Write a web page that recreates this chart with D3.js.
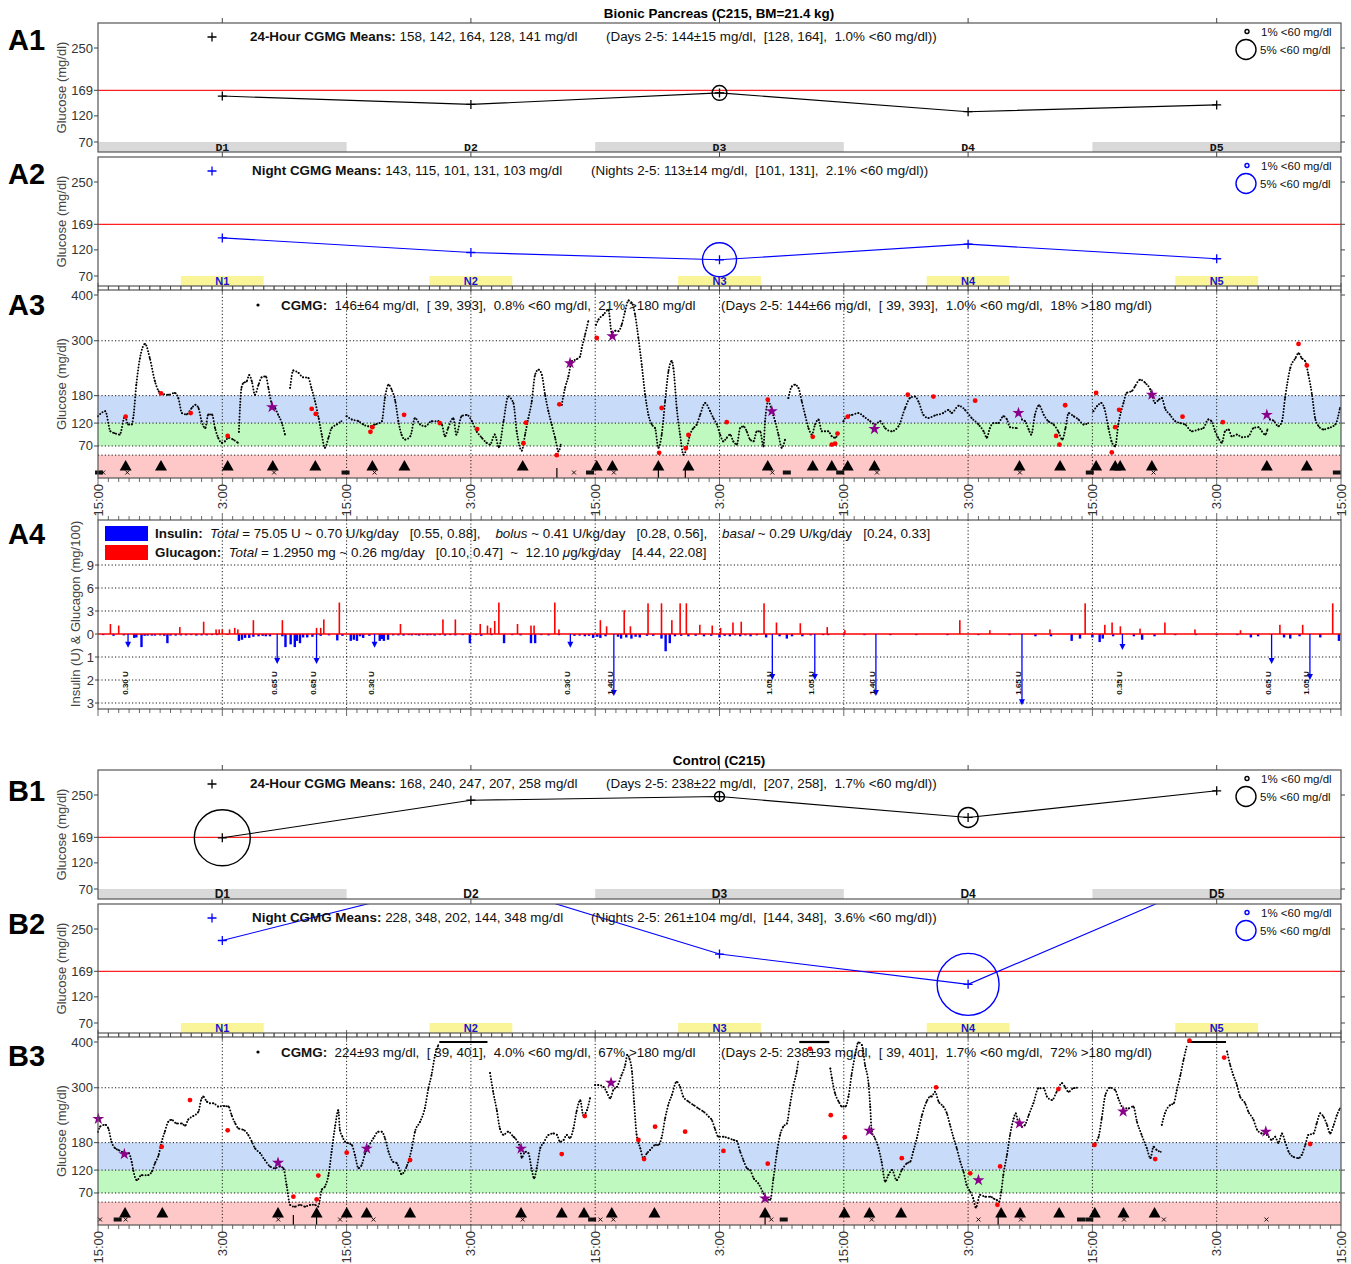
<!DOCTYPE html>
<html><head><meta charset="utf-8">
<script src="https://cdnjs.cloudflare.com/ajax/libs/d3/7.8.5/d3.min.js"></script>
<style>body{margin:0;background:#fff}svg{font-family:"Liberation Sans",Arial,Helvetica,sans-serif}text{white-space:pre}</style>
</head><body>
<svg id="chart" width="1351" height="1264"></svg>
<script>
// ---- data ----
const dayLabels = ["D1","D2","D3","D4","D5"];
const nightLabels = ["N1","N2","N3","N4","N5"];
const dayCenters = [12,36,60,84,108];           // hours after 15:00 on day 0
const bpDayMeans = [158,142,164,128,141];
const bpDayHypo = [0,0,3.7,0,0];                 // % <60 mg/dl (circle size)
const bpNightMeans = [143,115,101,131,103];
const bpNightHypo = [0,0,8.5,0,0];
const ctDayMeans = [168,240,247,207,258];
const ctDayHypo = [14,0,2.5,5,0];
const ctNightMeans = [228,348,202,144,348];
const ctNightHypo = [0,0,0,15.5,0];
const meanTicks = [70,120,169,250];
const cgmTicks = [70,120,180,300,400];
const timeLabels = ["15:00","3:00"];

// bionic pancreas CGMG [hour, mg/dl]; null = sensor gap
const bpCgm = [[0,135],[0.7,146],[1.2,102],[1.6,98],[2.1,95],[2.6,135],[2.9,117],[3.25,117],[3.4,131],[3.7,204],[4.05,262],[4.55,293],[5.0,262],[5.5,211],[5.85,190],[6.15,184],[6.8,182],[7.4,186],[7.75,175],[8.1,142],[8.55,139],[9.05,153],[9.4,160],[9.7,153],[10.0,124],[10.35,109],[10.65,139],[11.0,139],[11.3,109],[11.6,88],[11.95,77],[12.25,80],[12.6,88],[13.05,84],[13.5,77],null,
[13.6,101],[13.85,197],[14.05,208],[14.35,211],[14.6,225],[14.85,211],[15.15,182],[15.5,204],[15.8,220],[16.2,222],[16.45,197],[16.75,164],[17.1,153],[17.4,138],[17.75,120],[18.05,95],null,
[18.55,197],[18.85,235],[19.35,230],[19.8,220],[20.3,219],[20.6,197],[20.95,168],[21.3,131],[21.6,95],[21.9,66],[22.25,88],[22.55,109],[23.05,117],[23.5,124],null,
[24.0,135],[24.5,128],[25.15,124],[25.6,117],[26.1,113],[26.75,117],[27.4,124],[27.7,175],[28.05,204],[28.35,193],[28.7,168],[29.0,124],[29.3,95],[29.65,84],[30.15,91],[30.6,131],[31.1,117],[31.6,113],[32.2,124],[32.85,124],[33.2,117],[33.5,91],[33.8,109],[34.3,131],[34.6,95],[35.1,135],[35.6,138],[36.1,124],[36.55,102],[37.05,88],[37.5,77],[37.85,73],[38.3,95],[38.7,67],[39.15,124],[39.6,178],[40.1,164],
[40.42,102],[40.91,60],[41.23,95],[41.55,131],[41.87,167],[42.19,225],[42.52,237],[42.84,226],[43.16,182],[43.48,146],[43.8,117],[44.13,88],[44.45,58],[44.67,73],null,
[44.77,160],[45.09,197],[45.41,222],[45.73,255],[46.22,260],[46.54,266],[46.7,284],[47.02,313],[47.34,343],null,
[48.08,335],[48.31,346],[48.79,357],[49.27,368],[49.6,317],[49.92,322],[50.24,321],[50.56,335],[50.88,364],[51.21,388],[51.53,383],[51.85,357],[52.17,306],[52.49,248],[52.82,182],[53.14,138],[53.46,117],[53.78,109],[54.1,66],[54.42,95],[54.75,168],[55.07,233],[55.39,256],[55.55,240],[55.87,153],[56.19,95],[56.52,51],[56.84,66],[57.16,95],[57.48,109],[57.8,117],[58.13,138],[58.61,164],[59.09,146],[59.41,131],[59.74,117],[60.06,95],[60.38,80],[60.7,88],[61.02,95],[61.34,80],[61.67,73],[61.99,109],[62.31,113],[62.63,102],[62.95,84],[63.28,80],[63.6,102],[63.92,102],[64.24,69],[64.4,124],[64.72,168],[65.05,146],[65.37,124],[65.69,95],[66.01,66],[66.33,84],null,
[66.65,175],[66.98,200],[67.3,204],[67.62,197],[67.94,168],[68.26,138],[68.59,109],[68.91,95],[69.23,117],[69.55,128],[69.87,102],[70.2,102],[70.52,102],[70.84,91],[71.16,88],[71.48,98],null,
[71.97,124],[72.29,135],[72.77,138],[73.41,142],[73.9,135],[74.54,124],[75.02,117],[75.51,124],[75.99,109],[76.63,102],[77.28,113],[77.92,153],[78.4,175],[78.89,178],[79.21,167],[79.69,138],[80.17,131],
[80.8,137],[81.6,142],[82.1,149],[82.4,142],[83.1,158],[83.7,149],[84.35,131],[85.0,117],[85.5,102],[85.8,88],[86.1,109],[86.45,120],[86.9,120],[87.4,135],[87.75,128],[88.05,111],[88.7,109],null,
[89.2,128],[89.5,124],[89.85,106],[90.1,95],[90.45,138],[90.85,159],[91.3,138],[91.75,124],[92.25,117],[92.7,102],[93.1,84],[93.4,109],[93.7,142],[94.2,135],[94.65,128],[95.15,117],[95.6,120],null,
[96.1,146],[96.45,157],[96.85,164],[97.15,153],[97.55,109],[97.85,80],[98.2,69],[98.5,117],[99.0,164],[99.3,186],[99.8,190],[100.1,200],[100.6,215],[101.1,208],[101.6,193],[102.05,164],[102.4,171],[102.7,175],[103.0,153],[103.5,138],[104.0,124],[104.5,120],[104.95,117],[105.6,102],[106.25,106],[106.7,109],[107.2,128],[107.5,124],[107.85,102],[108.15,88],[108.5,77],[108.8,102],[109.15,106],[109.45,91],[109.95,95],[110.45,89],[111.05,91],[111.55,109],[112.05,111],[112.35,102],[112.7,95],[112.9,106],null,
[113.15,128],[113.5,125],[113.95,113],[114.3,124],[114.6,175],[115.1,240],[115.6,262],[115.9,273],[116.2,262],[116.55,255],[116.85,226],[117.2,182],[117.5,131],[117.85,113],[118.3,106],[118.8,109],[119.45,117],[119.9,153]];
const bpFinger = [[2.67,134],[6.08,185],[8.95,142],[12.52,92],[20.63,151],[21.02,140],[26.3,101],[26.49,111],[29.55,138],[32.99,120],[36.6,107],
[41.32,121],[41.07,76],[44.54,161],[44.29,50],[48.15,306],[54.42,153],[54.17,55],[57.0,94],[56.74,65],[60.7,122],[64.66,171],[69.0,90],[70.84,73],[71.16,75],[71.39,97],[72.38,134],[78.18,182],
[80.65,178],[84.68,169],[92.5,92],[92.82,73],[93.37,159],[96.36,186],[98.2,111],[98.58,149],[97.87,56],[104.7,134],[108.59,122],[115.9,293],[116.7,246]];
const bpStars = [[16.8,155],[45.57,251],[49.66,310],[65.05,146],[74.96,107],[88.86,142],[101.74,182],[112.84,138]];
const bpMeals = [2.67,6.08,12.52,16.87,20.98,26.49,29.58,41.0,48.15,49.66,54.1,57.0,64.66,69.0,70.84,72.38,74.96,88.96,92.88,96.36,98.2,98.68,101.74,112.84,116.7];
const bpCrosses = [0.5,2.83,17.0,26.7,45.95,49.8,65.1,75.2,89.0,101.9];
const bpCalib = [0.1,23.9,47.5,66.5,71.65,95.75,119.6];
const bpMarks = [44.3,54.1,56.7];

// control CGMG [hour, mg/dl]; null = sensor gap
const ctCgm = [[0,204],[0.2,215],[0.7,219],[1.0,211],[1.3,182],[1.65,168],[1.95,164],[2.3,160],[2.6,153],[2.95,157],[3.25,138],[3.4,120],[3.75,98],[4.2,109],[4.85,109],[5.2,117],[5.5,135],[5.85,153],[6.15,182],[6.45,204],[6.8,226],[7.1,230],[7.6,222],[8.1,222],[8.4,217],[8.7,230],[9.2,238],[9.7,248],[9.95,273],[10.15,281],[10.5,270],[10.8,266],[11.15,266],[11.6,259],[12.25,260],[12.6,259],[12.9,240],[13.25,222],[13.55,211],[14.05,208],[14.5,197],[14.85,182],[15.15,168],[15.65,157],[16.1,142],[16.6,128],[17.1,124],[17.55,128],[17.9,124],[18.2,88],[18.55,44],[19.0,40],[19.5,44],[20.0,40],[20.5,44],[20.95,44],[21.25,40],[21.6,77],[21.9,84],[22.25,109],[22.55,160],[22.9,217],[23.2,251],[23.35,208],[23.6,193],[23.85,182],[24.15,179],[24.5,175],[24.8,153],[25.15,124],[25.45,131],[25.8,157],[26.1,171],[26.6,190],[27.05,204],[27.4,204],[27.7,190],[28.05,160],[28.5,138],[28.85,135],[29.3,111],[29.8,128],[30.3,168],[30.6,204],[31.1,226],[31.55,255],[31.9,299],[32.2,328],[32.55,372],[32.85,393],null,
[37.85,332],[38.15,291],[38.5,251],[38.8,211],[39.15,197],[39.6,204],[40.1,193],
[40.25,190],[40.75,168],[40.9,147],[41.25,160],[41.55,157],[41.85,124],[42.1,102],[42.35,124],[42.7,168],[43.0,179],[43.5,197],[43.95,200],[44.3,197],[44.6,182],[44.95,186],[45.25,197],[45.55,190],[45.9,211],[46.2,248],[46.55,273],[46.85,240],[47.2,251],[47.5,277],null,
[48.0,306],[48.3,306],[48.8,302],[49.1,291],[49.45,277],[49.75,295],[50.1,302],[50.55,328],[50.9,350],[51.1,372],[51.3,364],[51.55,335],[51.75,270],[52.0,197],[52.35,168],[52.65,146],[53.0,157],[53.3,164],[53.8,175],[54.1,175],[54.4,190],[54.75,233],[55.05,262],[55.4,284],[55.85,313],[56.2,302],[56.5,281],[57.0,270],[57.5,262],[57.95,255],[58.45,248],[58.95,237],[59.25,230],[59.55,211],[59.9,193],[60.4,193],[60.85,190],[61.35,186],[61.65,184],[62.0,160],[62.3,142],[62.65,124],[62.95,120],[63.3,102],[63.75,91],[64.25,69],[64.55,55],[64.9,55],[65.2,101],[65.55,160],[65.85,197],[66.15,215],[66.5,222],[66.8,262],[67.15,306],[67.45,335],[67.6,357],null,
[70.7,342],[70.85,321],[71.15,288],[71.5,270],[71.8,259],[72.15,259],[72.45,281],[72.75,328],[73.1,372],[73.4,399],[73.75,393],[74.05,350],[74.4,306],[74.55,259],[74.7,204],[75.0,190],[75.35,168],[75.65,138],[76.0,95],[76.3,109],[76.65,120],[77.1,98],[77.6,120],[78.1,135],[78.4,138],[78.7,160],[79.05,190],[79.55,240],[80.0,270],[80.35,281],
[80.5,281],[80.8,291],[81.15,270],[81.6,259],[81.95,244],[82.25,219],[82.6,190],[82.9,168],[83.25,138],[83.55,117],[83.85,88],[84.2,73],[84.5,58],[84.75,38],[85.15,66],[85.65,62],[86.15,62],[86.45,58],[86.75,55],[87.0,51],[87.2,73],[87.4,109],[87.75,153],[88.05,197],[88.4,233],[88.6,244],[88.85,222],[89.2,215],[89.5,219],[89.85,240],[90.3,266],[90.8,299],[91.3,299],[91.6,281],[92.1,273],[92.55,291],[93.05,310],[93.35,302],[93.7,291],[94.15,299],[94.5,300],null,
[96.1,175],[96.6,193],[96.9,233],[97.25,284],[97.7,300],[98.2,295],[98.5,277],[99.0,255],[99.5,255],[99.95,259],[100.3,226],[100.75,197],[101.25,168],[101.6,146],[101.9,171],[102.2,164],[102.6,160],null,
[102.7,219],[103.0,244],[103.5,262],[103.85,266],[104.15,295],[104.5,328],[104.8,361],[105.1,390],null,
[109.0,379],[109.3,350],[109.6,328],[109.95,306],[110.25,281],[110.75,266],[111.05,248],[111.55,230],[111.9,208],[112.35,200],[112.85,197],[113.3,186],[113.65,193],[113.95,179],[114.3,200],[114.6,182],[114.95,160],[115.4,149],[115.9,146],[116.2,153],[116.55,175],[116.85,197],[117.35,200],[117.65,222],[118.0,244],[118.3,237],[118.65,219],[118.95,200],[119.3,219],[119.6,240],[119.9,255]];
const ctCapped = [[32.95,37.6],[67.7,70.6],[105.2,108.9]];   // sensor at 400 ceiling
const ctFinger = [[8.88,273],[12.52,207],[6.15,171],[18.86,62],[21.27,108],[21.11,56],[24.01,158],[30.13,142],
[44.77,155],[46.99,238],[52.17,186],[52.72,144],[53.78,215],[56.68,204],[60.38,162],[64.66,134],[68.75,385],[70.74,240],[72.09,192],[77.6,146],
[80.91,301],[84.2,113],[86.83,44],[87.09,128],[92.72,297],[96.2,175],[102.06,144],[105.37,403],[108.72,366],[117.02,177]];
const ctStars = [[0.03,232],[2.54,155],[17.38,136],[25.94,167],[40.84,167],[49.53,311],[64.4,58],[74.47,206],[85.0,98],[88.96,222],[98.97,248],[112.74,204]];
const ctMeals = [2.61,6.21,17.38,21.11,24.01,25.94,30.13,40.84,44.77,46.92,49.6,53.72,64.4,72.06,74.47,77.53,87.19,89.02,92.79,96.23,99.0,102.0];
const ctCrosses = [0.2,2.67,17.4,23.37,26.59,41.0,48.5,49.75,65.0,74.7,85.0,89.1,99.05,102.9,112.8];
const ctCalib = [1.9,47.7,66.2,94.9,95.7];
const ctMarks = [18.86,21.1,64.4,86.9];

// insulin / glucagon
const bolusTimes = [2.9,17.3,21.1,26.7,45.6,49.8,65.1,69.2,75.1,89.2,98.9,113.3,117.0];
const bolusDoses = ["0.30","0.65","0.65","0.30","0.30","1.40","1.05","1.05","1.40","1.65","0.35","0.65","1.05"];
const bolusDepth = [0.6,1.3,1.3,0.6,0.6,2.7,2.0,2.0,2.7,3.1,0.7,1.3,2.0];
const basal = [[0.5,0.05],[1.5,0.08],[2.5,0.06],[3.5,0.17],[3.7,0.15],[4.2,0.57],[4.5,0.08],[4.8,0.07],[5.2,0.07],[5.5,0.07],[6.0,0.06],[6.4,0.08],[6.7,0.4],[7.0,0.07],[7.5,0.07],[8.0,0.06],[8.5,0.06],[9.0,0.05],[9.5,0.07],[10.0,0.06],[10.5,0.06],[11.0,0.05],[11.5,0.05],[12.5,0.04],[13.6,0.3],[13.9,0.25],[14.2,0.17],[14.6,0.17],[15.0,0.12],[15.5,0.1],[15.9,0.08],[16.2,0.1],[16.6,0.1],[17.8,0.1],[18.1,0.57],[18.6,0.45],[19.0,0.57],[19.2,0.3],[19.5,0.4],[19.8,0.15],[20.2,0.15],[20.7,0.12],[21.5,0.08],[22.3,0.06],[23.1,0.28],[23.6,0.08],[24.4,0.3],[24.7,0.25],[25.0,0.3],[25.3,0.1],[25.6,0.17],[26.2,0.08],[27.2,0.3],[27.4,0.22],[27.6,0.3],[28.0,0.25],[28.5,0.06],[29.0,0.06],[29.5,0.07],[30.0,0.05],[30.3,0.06],[30.7,0.05],[31,0.07],[31.4,0.05],[31.8,0.06],[32.1,0.05],[32.5,0.07],[33.0,0.05],[33.5,0.07],[34.0,0.05],[34.5,0.06],[35.2,0.05],[35.9,0.4],[36.5,0.05],[37,0.08],[38.0,0.05],[39.2,0.4],[40.0,0.05],[40.8,0.06],[41.8,0.4],[42.2,0.4],[42.8,0.05],[43.5,0.06],[44.5,0.05],[46.0,0.08],[46.5,0.07],[47.0,0.1],[47.4,0.08],[47.8,0.17],[48.2,0.12],[48.5,0.17],[49.0,0.1],[50.2,0.12],[50.5,0.2],[51.0,0.15],[51.5,0.2],[51.9,0.12],[52.3,0.15],[53.0,0.08],[53.6,0.08],[54.4,0.2],[54.8,0.75],[55.2,0.4],[55.7,0.1],[56.3,0.08],[57,0.1],[57.7,0.08],[58.5,0.1],[59.2,0.08],[60,0.15],[60.5,0.08],[61,0.1],[61.5,0.06],[62,0.1],[62.5,0.06],[63,0.1],[63.6,0.06],[64.5,0.15],[65.8,0.1],[66.5,0.2],[67.0,0.1],[68,0.1],[68.8,0.06],[70.0,0.05],[70.5,0.05],[72,0.05],[74,0.05],[76.5,0.05],[79,0.05],[82,0.05],[85,0.05],[88,0.05],[90.5,0.1],[92,0.1],[94,0.3],[94.8,0.2],[96,0.15],[96.7,0.35],[97,0.2],[98,0.1],[100,0.1],[100.8,0.25],[102,0.1],[104,0.05],[106,0.05],[108,0.05],[110,0.05],[111.3,0.15],[112,0.1],[114.5,0.15],[115.1,0.2],[116,0.1],[118,0.15],[119.8,0.3]];
const glucagon = [[1.2,1.3],[2.0,1.1],[7.9,0.9],[10.2,1.6],[11.4,0.6],[11.7,0.6],[12.0,0.6],[12.7,0.6],[13.2,0.8],[13.5,0.6],[15.0,1.8],[17.8,1.8],[21.1,0.8],[21.5,0.8],[21.8,1.9],[23.3,4.1],[29.2,1.3],[33.3,1.9],[34.5,1.9],[36.9,1.3],[37.6,1.1],[37.9,0.8],[38.3,1.7],[38.7,4.1],[40.5,1.3],[41.8,1.1],[42.1,1.1],[44.1,4.1],[44.5,0.6],
[48.5,1.8],[49.1,1.0],[50.8,3.1],[51.4,1.0],[53.1,4.0],[54.4,4.0],[55.4,1.8],[56.2,4.0],[56.8,4.0],[58.1,1.2],[59.3,1.1],[60.1,0.8],[61.3,1.5],[62.1,1.6],[64.3,4.0],[65.5,1.5],[67.8,1.4],[70.4,0.9],[72.1,0.5],[83.2,1.8],[86.1,0.5],[91.9,0.6],[95.3,4.0],[97.2,1.2],[97.9,1.5],[98.7,1.0],[100.6,0.7],[103.0,1.5],[105.9,0.6],[110.3,0.5],[114.1,1.2],[116.3,1.2],[119.2,4.0]];

// ---- drawing ----
const X0 = 98, X1 = 1341;
const x = d3.scaleLinear().domain([0,120]).range([X0,X1]);
const svg = d3.select("#chart");
const TXT = "#333";
const FS = 13.4;
const hours = d3.range(0,121);
const majors = d3.range(0,121,12);

function label(id, yBase){
  svg.append("text").attr("x",8).attr("y",yBase).attr("font-size",29).attr("font-weight","bold").text(id);
}
function yTitle(text, cx, cy){
  svg.append("text").attr("transform",`translate(${cx},${cy}) rotate(-90)`).attr("text-anchor","middle")
    .attr("font-size",13).attr("fill","#444").text(text);
}
function richText(g, xPos, yPos, parts){
  const t = g.append("text").attr("x",xPos).attr("y",yPos).attr("font-size",FS).attr("fill","#111");
  parts.forEach(p => t.append("tspan").attr("font-weight",p[1]==="b"?"bold":null).attr("font-style",p[1]==="i"?"italic":null).text(p[0]));
  return t;
}
function plus(g, cx, cy, color, s){
  g.append("path").attr("d",`M${cx-s},${cy}H${cx+s}M${cx},${cy-s}V${cy+s}`).attr("stroke",color).attr("stroke-width",1.3);
}
function hourTicks(g, yPos, dir){
  g.selectAll(null).data(hours).join("line").attr("x1",d=>x(d)).attr("x2",d=>x(d))
    .attr("y1",yPos).attr("y2",d=>yPos+dir*(d%12===0?7:4)).attr("stroke","#444").attr("stroke-width",0.8);
}
function yAxis(g, y, ticks){
  g.selectAll(null).data(ticks).join("line").attr("x1",X0-4).attr("x2",X0).attr("y1",d=>y(d)).attr("y2",d=>y(d)).attr("stroke","#444");
  g.selectAll(null).data(ticks).join("line").attr("x1",X1).attr("x2",X1+4).attr("y1",d=>y(d)).attr("y2",d=>y(d)).attr("stroke","#444");
  g.selectAll(null).data(ticks).join("text").attr("x",X0-5).attr("y",d=>y(d)+4.5).attr("text-anchor","end")
    .attr("font-size",13).attr("fill",TXT).text(d=>d);
}

const rScale = d3.scaleLinear().domain([0,5]).range([0,10]);

function meansPanel(top, o){
  const g = svg.append("g");
  const H = 129, bottom = top + H;
  const y = d3.scaleLinear().domain([70,250]).range([top+119, top+25]);
  const cid = "clip" + top;
  g.append("clipPath").attr("id",cid).append("rect").attr("x",X0).attr("y",top).attr("width",X1-X0).attr("height",H);
  const bandTop = y(70);
  if (o.night){
    g.selectAll(null).data(dayCenters).join("rect").attr("x",d=>x(d-4)).attr("width",d=>x(d+4)-x(d-4))
      .attr("y",bandTop).attr("height",bottom-bandTop).attr("fill","#fbf59a");
    g.selectAll(null).data(nightLabels).join("text").attr("x",(d,i)=>x(dayCenters[i])).attr("y",bottom-1.5)
      .attr("text-anchor","middle").attr("font-size",11).attr("font-weight","bold").attr("fill","#1414d0").text(d=>d);
  } else {
    g.selectAll(null).data(dayCenters.filter((d,i)=>i%2===0)).join("rect").attr("x",d=>x(d-12)).attr("width",x(24)-x(0))
      .attr("y",bandTop).attr("height",bottom-bandTop).attr("fill","#d9d9d9");
    g.selectAll(null).data(dayLabels).join("text").attr("x",(d,i)=>x(dayCenters[i])).attr("y",bottom-1.5)
      .attr("text-anchor","middle").attr("font-size",o.mono?11.5:12).attr("font-weight","bold")
      .attr("font-family",o.mono?"'Liberation Mono','Courier New',monospace":null).attr("fill","#111").text(d=>d);
  }
  g.append("line").attr("x1",X0).attr("x2",X1).attr("y1",y(169)).attr("y2",y(169)).attr("stroke","#ff2020").attr("stroke-width",1.3);
  const cg = g.append("g").attr("clip-path",`url(#${cid})`);
  const line = d3.line().x((d,i)=>x(dayCenters[i])).y(d=>y(d));
  cg.append("path").attr("d",line(o.means)).attr("fill","none").attr("stroke",o.color).attr("stroke-width",1.1);
  o.means.forEach((v,i)=>{
    if (y(v) > top) plus(cg, x(dayCenters[i]), y(v), o.color, 4.5);
    if (o.hypo[i] > 0) cg.append("circle").attr("cx",x(dayCenters[i])).attr("cy",y(v)).attr("r",rScale(o.hypo[i]))
      .attr("fill","none").attr("stroke",o.color).attr("stroke-width",1.4);
  });
  g.append("rect").attr("x",X0).attr("y",top).attr("width",X1-X0).attr("height",H).attr("fill","none").attr("stroke","#555").attr("stroke-width",1.2);
  yAxis(g, y, meanTicks);
  // legend
  g.append("circle").attr("cx",1247).attr("cy",top+8.5).attr("r",rScale(1)).attr("fill","none").attr("stroke",o.color).attr("stroke-width",1.4);
  g.append("circle").attr("cx",1246).attr("cy",top+26.5).attr("r",rScale(5)).attr("fill","none").attr("stroke",o.color).attr("stroke-width",1.4);
  g.append("text").attr("x",1261).attr("y",top+13).attr("font-size",11.5).attr("fill","#111").text("1% <60 mg/dl");
  g.append("text").attr("x",1260).attr("y",top+31).attr("font-size",11.5).attr("fill","#111").text("5% <60 mg/dl");
  // header
  plus(g, 212, top+14, o.color, 4.5);
  richText(g, o.tx, top+18, o.head);
  richText(g, o.tx2, top+18, o.head2);
  if (o.night) hourTicks(g, bottom, 1);
  else {
    g.selectAll(null).data(dayCenters).join("line").attr("x1",d=>x(d)).attr("x2",d=>x(d)).attr("y1",top).attr("y2",top-5).attr("stroke","#444");
    g.selectAll(null).data(dayCenters).join("line").attr("x1",d=>x(d)).attr("x2",d=>x(d)).attr("y1",bottom).attr("y2",bottom+5).attr("stroke","#444");
  }
}

function cgmPanel(top, o){
  const g = svg.append("g");
  const H = 188, bottom = top + H;
  const y = d3.scaleLinear().domain([0,400]).range([bottom, top+5]);
  const bands = [[0,50,"#ffc8c8"],[70,120,"#bff9bf"],[120,180,"#c8dcf9"]];
  g.selectAll(null).data(bands).join("rect").attr("x",X0).attr("width",X1-X0)
    .attr("y",d=>y(d[1])).attr("height",d=>y(d[0])-y(d[1])).attr("fill",d=>d[2]);
  g.selectAll(null).data([50,70,120,180,300]).join("line").attr("x1",X0).attr("x2",X1).attr("y1",d=>y(d)).attr("y2",d=>y(d))
    .attr("stroke","#000").attr("stroke-dasharray","1.2,2.2").attr("stroke-width",0.9);
  g.selectAll(null).data(majors.slice(1,-1)).join("line").attr("x1",d=>x(d)).attr("x2",d=>x(d)).attr("y1",top).attr("y2",bottom)
    .attr("stroke","#000").attr("stroke-dasharray","1.2,2.2").attr("stroke-width",0.9);
  // CGMG trace: dotted stroke through the read values
  const cgmLine = d3.line().defined(d=>d!==null).x(d=>x(d[0])).y(d=>y(d[1])).curve(d3.curveMonotoneX);
  g.append("path").attr("d",cgmLine(o.cgm)).attr("fill","none").attr("stroke","#000").attr("stroke-width",2)
    .attr("stroke-linecap","round").attr("stroke-dasharray","0,3");
  g.selectAll(null).data(o.cgm.filter(d=>d)).join("circle").attr("cx",d=>x(d[0])).attr("cy",d=>y(d[1])).attr("r",0.9).attr("fill","#000");
  g.selectAll(null).data(o.capped||[]).join("line").attr("x1",d=>x(d[0])).attr("x2",d=>x(d[1])).attr("y1",y(400)).attr("y2",y(400))
    .attr("stroke","#000").attr("stroke-width",2.2);
  g.selectAll(null).data(o.finger).join("circle").attr("cx",d=>x(d[0])).attr("cy",d=>y(d[1])).attr("r",2.4).attr("fill","#ff0000");
  const star = d3.symbol().type(d3.symbolStar).size(45);
  g.selectAll(null).data(o.stars).join("path").attr("d",star).attr("transform",d=>`translate(${x(d[0])},${y(d[1])})`).attr("fill","#8b008b");
  const tri = d3.symbol().type(d3.symbolTriangle).size(62);
  g.selectAll(null).data(o.meals).join("path").attr("d",tri).attr("transform",d=>`translate(${x(d)},${y(24)})`).attr("fill","#000");
  g.selectAll(null).data(o.crosses).join("path").attr("d",d=>{const cx=x(d),cy=y(12);return `M${cx-2},${cy-2}L${cx+2},${cy+2}M${cx-2},${cy+2}L${cx+2},${cy-2}`;})
    .attr("stroke","#000").attr("stroke-width",0.9);
  g.selectAll(null).data(o.calib).join("rect").attr("x",d=>x(d)-4).attr("y",y(12)-2).attr("width",8).attr("height",4).attr("fill","#111");
  g.selectAll(null).data(o.marks).join("line").attr("x1",d=>x(d)).attr("x2",d=>x(d)).attr("y1",y(22)).attr("y2",bottom).attr("stroke","#000").attr("stroke-width",1.2);
  g.append("rect").attr("x",X0).attr("y",top).attr("width",X1-X0).attr("height",H).attr("fill","none").attr("stroke","#555").attr("stroke-width",1.2);
  yAxis(g, y, cgmTicks);
  hourTicks(g, top, -1);
  hourTicks(g, bottom, 1);
  g.selectAll(null).data(majors).join("text").attr("transform",d=>`translate(${x(d)+4.5},${bottom+6}) rotate(-90)`)
    .attr("text-anchor","end").attr("font-size",13).attr("fill",TXT).text((d,i)=>timeLabels[i%2]);
  g.append("circle").attr("cx",258).attr("cy",top+15).attr("r",1.6).attr("fill","#000");
  richText(g, 281, top+20, o.head);
  richText(g, 721, top+20, o.head2);
}

function dosePanel(top){
  const g = svg.append("g");
  const H = 189, bottom = top + H;
  const yGlu = d3.scaleLinear().domain([0,3]).range([top+114, top+91]);
  const yIns = d3.scaleLinear().domain([0,1]).range([top+114, top+137]);
  [3,6,9].forEach(v => g.append("line").attr("x1",X0).attr("x2",X1).attr("y1",yGlu(v)).attr("y2",yGlu(v)).attr("stroke","#000").attr("stroke-dasharray","1.2,2.2").attr("stroke-width",0.9));
  [1,2,3].forEach(v => g.append("line").attr("x1",X0).attr("x2",X1).attr("y1",yIns(v)).attr("y2",yIns(v)).attr("stroke","#000").attr("stroke-dasharray","1.2,2.2").attr("stroke-width",0.9));
  g.selectAll(null).data(majors.slice(1,-1)).join("line").attr("x1",d=>x(d)).attr("x2",d=>x(d)).attr("y1",top).attr("y2",bottom)
    .attr("stroke","#000").attr("stroke-dasharray","1.2,2.2").attr("stroke-width",0.9);
  g.selectAll(null).data(basal).join("rect").attr("x",d=>x(d[0])-1.2).attr("width",2.4).attr("y",yIns(0)).attr("height",d=>yIns(d[1])-yIns(0)).attr("fill","#0000ff");
  g.append("line").attr("x1",X0).attr("x2",X1).attr("y1",yGlu(0)).attr("y2",yGlu(0)).attr("stroke","#ff0000").attr("stroke-width",1.6);
  g.selectAll(null).data(glucagon).join("rect").attr("x",d=>x(d[0])-0.8).attr("width",1.6).attr("y",d=>yGlu(d[1])).attr("height",d=>yGlu(0)-yGlu(d[1])).attr("fill","#ff0000");
  bolusTimes.forEach((t,i)=>{
    const bx = x(t), tip = yIns(bolusDepth[i]);
    g.append("line").attr("x1",bx).attr("x2",bx).attr("y1",yIns(0)).attr("y2",tip-4).attr("stroke","#0000ff").attr("stroke-width",1.3);
    g.append("path").attr("d",`M${bx-3},${tip-6}L${bx+3},${tip-6}L${bx},${tip}Z`).attr("fill","#0000ff");
    g.append("text").attr("transform",`translate(${bx-0.5},${top+163}) rotate(-90)`).attr("text-anchor","middle")
      .attr("font-size",8).attr("font-weight","bold").attr("fill","#111").text(bolusDoses[i]+" U");
  });
  g.append("rect").attr("x",X0).attr("y",top).attr("width",X1-X0).attr("height",H).attr("fill","none").attr("stroke","#555").attr("stroke-width",1.2);
  const gt = [0,3,6,9];
  g.selectAll(null).data(gt).join("text").attr("x",X0-4).attr("y",d=>yGlu(d)+4.5).attr("text-anchor","end").attr("font-size",13).attr("fill",TXT).text(d=>d);
  g.selectAll(null).data([1,2,3]).join("text").attr("x",X0-4).attr("y",d=>yIns(d)+4.5).attr("text-anchor","end").attr("font-size",13).attr("fill",TXT).text(d=>d);
  g.selectAll(null).data(gt.map(yGlu).concat([1,2,3].map(yIns))).join("line").attr("x1",X0-3).attr("x2",X0).attr("y1",d=>d).attr("y2",d=>d).attr("stroke","#444");
  hourTicks(g, top, -1);
  hourTicks(g, bottom, 1);
  g.append("rect").attr("x",105).attr("y",top+6).attr("width",43).attr("height",15).attr("fill","#0000ff");
  g.append("rect").attr("x",105).attr("y",top+25).attr("width",43).attr("height",15).attr("fill","#ff0000");
  richText(g, 155, top+18, [["Insulin:  ","b"],["Total","i"],[" = 75.05 U ~ 0.70 U/kg/day   [0.55, 0.88],    "],["bolus","i"],[" ~ 0.41 U/kg/day   [0.28, 0.56],    "],["basal","i"],[" ~ 0.29 U/kg/day   [0.24, 0.33]"]]);
  richText(g, 155, top+37, [["Glucagon:  ","b"],["Total","i"],[" = 1.2950 mg ~ 0.26 mg/day   [0.10, 0.47]  ~  12.10 "],["μ","i"],["g/kg/day   [4.44, 22.08]"]]);
}

// ---- layout ----
svg.append("text").attr("x",719).attr("y",18).attr("text-anchor","middle").attr("font-size",FS).attr("font-weight","bold").text("Bionic Pancreas (C215, BM=21.4 kg)");
svg.append("text").attr("x",719).attr("y",765).attr("text-anchor","middle").attr("font-size",FS).attr("font-weight","bold").text("Control (C215)");

meansPanel(23, {means:bpDayMeans, hypo:bpDayHypo, color:"#000", mono:true, tx:250, tx2:606,
  head:[["24-Hour CGMG Means: ","b"],["158, 142, 164, 128, 141 mg/dl"]],
  head2:[["(Days 2-5: 144±15 mg/dl,  [128, 164],  1.0% <60 mg/dl))"]]});
meansPanel(157, {means:bpNightMeans, hypo:bpNightHypo, color:"#0000ff", night:true, tx:252, tx2:591,
  head:[["Night CGMG Means: ","b"],["143, 115, 101, 131, 103 mg/dl"]],
  head2:[["(Nights 2-5: 113±14 mg/dl,  [101, 131],  2.1% <60 mg/dl))"]]});
cgmPanel(290, {cgm:bpCgm, finger:bpFinger, stars:bpStars, meals:bpMeals, crosses:bpCrosses, calib:bpCalib, marks:bpMarks,
  head:[["CGMG:","b"],["  146±64 mg/dl,  [ 39, 393],  0.8% <60 mg/dl,  21% >180 mg/dl"]],
  head2:[["(Days 2-5: 144±66 mg/dl,  [ 39, 393],  1.0% <60 mg/dl,  18% >180 mg/dl)"]]});
dosePanel(520);
meansPanel(770, {means:ctDayMeans, hypo:ctDayHypo, color:"#000", tx:250, tx2:606,
  head:[["24-Hour CGMG Means: ","b"],["168, 240, 247, 207, 258 mg/dl"]],
  head2:[["(Days 2-5: 238±22 mg/dl,  [207, 258],  1.7% <60 mg/dl))"]]});
meansPanel(904, {means:ctNightMeans, hypo:ctNightHypo, color:"#0000ff", night:true, tx:252, tx2:591,
  head:[["Night CGMG Means: ","b"],["228, 348, 202, 144, 348 mg/dl"]],
  head2:[["(Nights 2-5: 261±104 mg/dl,  [144, 348],  3.6% <60 mg/dl))"]]});
cgmPanel(1037, {cgm:ctCgm, capped:ctCapped, finger:ctFinger, stars:ctStars, meals:ctMeals, crosses:ctCrosses, calib:ctCalib, marks:ctMarks,
  head:[["CGMG:","b"],["  224±93 mg/dl,  [ 39, 401],  4.0% <60 mg/dl,  67% >180 mg/dl"]],
  head2:[["(Days 2-5: 238±93 mg/dl,  [ 39, 401],  1.7% <60 mg/dl,  72% >180 mg/dl)"]]});

[["A1",50],["A2",184],["A3",315],["A4",544],["B1",801],["B2",934],["B3",1066]].forEach(d=>label(d[0],d[1]));
[[23,129],[157,129],[290,188],[770,129],[904,129],[1037,188]].forEach(d=>yTitle("Glucose (mg/dl)",66,d[0]+d[1]/2));
yTitle("Insulin (U) & Glucagon (mg/100)",80,614);
</script>
</body></html>
